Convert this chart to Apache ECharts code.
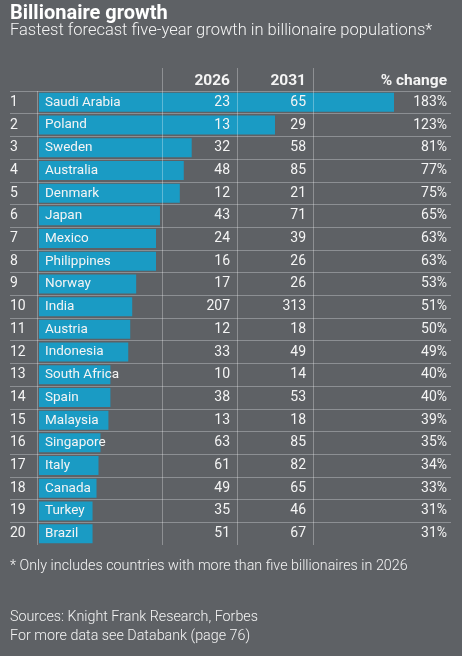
<!DOCTYPE html>
<html>
<head>
<meta charset="utf-8">
<title>Billionaire growth</title>
<script src="https://cdn.jsdelivr.net/npm/echarts@6/dist/echarts.min.js"></script>
<style>
  html, body { margin: 0; padding: 0; background: #5e6165; }
  #chart { width: 462px; height: 656px; }
</style>
</head>
<body>
<div id="chart"></div>
<script>
// table data
var ranks = ['1', '2', '3', '4', '5', '6', '7', '8', '9', '10',
  '11', '12', '13', '14', '15', '16', '17', '18', '19', '20'];
var countries = ['Saudi Arabia', 'Poland', 'Sweden', 'Australia', 'Denmark', 'Japan', 'Mexico',
  'Philippines', 'Norway', 'India', 'Austria', 'Indonesia', 'South Africa', 'Spain', 'Malaysia',
  'Singapore', 'Italy', 'Canada', 'Turkey', 'Brazil'];
var y2026 = [23, 13, 32, 48, 12, 43, 24, 16, 17, 207, 12, 33, 10, 38, 13, 63, 61, 49, 35, 51];
var y2031 = [65, 29, 58, 85, 21, 71, 39, 26, 26, 313, 18, 49, 14, 53, 18, 85, 82, 65, 46, 67];
var pctChange = [183, 123, 81, 77, 75, 65, 63, 63, 53, 51, 50, 49, 40, 40, 39, 35, 34, 33, 31, 31];
var headers = ['2026', '2031', '% change'];

var FONT = 'Roboto, sans-serif';
var TEXT = '#f4f4f4';
var RULE = '#8c8f93';
var BAR = '#1a9bc4';

var chart = echarts.init(document.getElementById('chart'));

// category axis used only to print one column of the table
function columnAxis(data, position, offset, align) {
  return {
    type: 'category', gridIndex: 0, data: data, inverse: true, z: 10,
    position: position, offset: offset,
    axisLine: {show: false}, axisTick: {show: false}, splitLine: {show: false},
    axisLabel: {interval: 0, margin: 0, align: align, color: TEXT, fontSize: 14, fontFamily: FONT}
  };
}

function header(text, right) {
  return {
    text: text, right: right, top: 73, padding: 0,
    textStyle: {fontSize: 15.5, fontWeight: 'bold', color: TEXT, fontFamily: FONT}
  };
}

// column dividers sit on top of the bars, faintly
function rule(x, y1, y2) {
  return {type: 'line', shape: {x1: x, y1: y1, x2: x, y2: y2},
    style: {stroke: 'rgba(255,255,255,0.3)', lineWidth: 1}, z: 20};
}

function note(text, top) {
  return {text: text, left: 10, top: top, padding: 0,
    textStyle: {fontSize: 14.3, fontWeight: 300, color: TEXT, fontFamily: FONT}};
}

chart.setOption({
  backgroundColor: '#5e6165',
  animation: false,
  title: [
    {text: 'Billionaire growth', left: 10, top: 4, padding: 0,
      textStyle: {fontSize: 20, fontWeight: 'bold', color: '#ffffff', fontFamily: FONT}},
    {text: 'Fastest forecast five-year growth in billionaire populations*', left: 10, top: 22, padding: 0,
      textStyle: {fontSize: 16.5, fontWeight: 300, color: TEXT, fontFamily: FONT}},
    header(headers[0], 232),
    header(headers[1], 156),
    header(headers[2], 15),
    note('* Only includes countries with more than five billionaires in 2026', 559),
    note('Sources: Knight Frank Research, Forbes', 610),
    note('For more data see Databank (page 76)', 629)
  ],
  grid: [
    {left: 10, right: 11, top: 91, height: 454, outerBoundsMode: 'none'},
    {left: 39, right: 68, top: 91, height: 454, outerBoundsMode: 'none'}
  ],
  xAxis: [
    {type: 'value', gridIndex: 0, min: 0, max: 1, show: false},
    {type: 'value', gridIndex: 1, min: 4, max: 183, show: false}
  ],
  yAxis: [
    {
      type: 'category', gridIndex: 0, data: countries, inverse: true,
      axisLine: {show: false}, axisTick: {show: false}, axisLabel: {show: false},
      splitLine: {show: true, interval: 0, showMaxLine: false, lineStyle: {color: RULE, width: 1}}
    },
    {type: 'category', gridIndex: 1, data: countries, inverse: true, show: false},
    columnAxis(ranks, 'left', 0, 'left'),
    columnAxis(y2026, 'right', -221, 'right'),
    columnAxis(y2031, 'right', -145, 'right'),
    columnAxis(pctChange.map(function (v) { return v + '%'; }), 'right', -4, 'right')
  ],
  graphic: [
    rule(37.5, 91, 545),
    rule(162.5, 68, 545),
    rule(237.5, 68, 545),
    rule(313.5, 68, 545)
  ],
  series: [
    {
      type: 'bar', xAxisIndex: 1, yAxisIndex: 1, data: pctChange, barWidth: 19, silent: true,
      itemStyle: {color: BAR},
      label: {show: true, position: 'insideLeft', distance: 6, formatter: '{b}',
        color: TEXT, fontSize: 13.5, fontFamily: FONT}
    }
  ]
});
</script>
</body>
</html>
